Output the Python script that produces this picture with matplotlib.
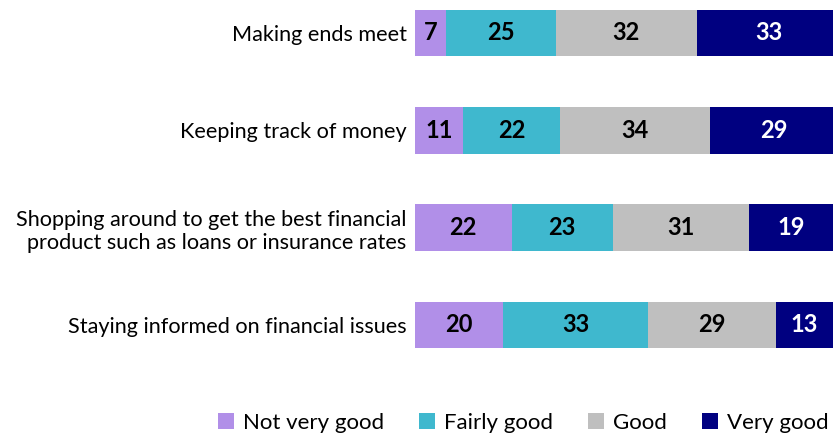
import matplotlib.pyplot as plt

categories = ["Making ends meet", "Keeping track of money",
              "Shopping around to get the best financial\nproduct such as loans or insurance rates",
              "Staying informed on financial issues"]
series = ["Not very good", "Fairly good", "Good", "Very good"]
not_very_good = [7, 11, 22, 20]
fairly_good = [25, 22, 23, 33]
good = [32, 34, 31, 29]
very_good = [33, 29, 19, 13]

colors = ["#B18FE8", "#3FB8CE", "#BFBFBF", "#000080"]
text_colors = ["black", "black", "black", "white"]

plt.rcParams['font.family'] = ['Lato', 'DejaVu Sans']

fig = plt.figure(figsize=(8.33, 4.38), dpi=100)
ax = fig.add_axes([0.498, 0.151, 0.502, 0.849])

y = list(range(len(categories)))
left = [0] * len(categories)
for name, vals, c, tc in zip(series, [not_very_good, fairly_good, good, very_good], colors, text_colors):
    bars = ax.barh(y, vals, left=left, height=0.48, color=c, label=name)
    for b, v in zip(bars, vals):
        ax.text(b.get_x() + b.get_width() / 2, b.get_y() + b.get_height() / 2, str(v),
                ha='center', va='center', color=tc, fontsize=17, fontweight='bold')
    left = [l + v for l, v in zip(left, vals)]

ax.set_xlim(0, 95)
ax.set_ylim(3.483, -0.339)
ax.set_yticks(y)
ax.set_yticklabels(categories, fontsize=15.6, linespacing=1.2)
ax.tick_params(axis='y', length=0, pad=6)
ax.set_xticks([])
for s in ax.spines.values():
    s.set_visible(False)

fig.legend(loc='center', bbox_to_anchor=(0.628, 0.034), ncol=4, frameon=False,
           fontsize=16, handlelength=0.75, handleheight=0.75, handletextpad=0.4,
           columnspacing=1.55)

fig.savefig("out.png", dpi=100)
